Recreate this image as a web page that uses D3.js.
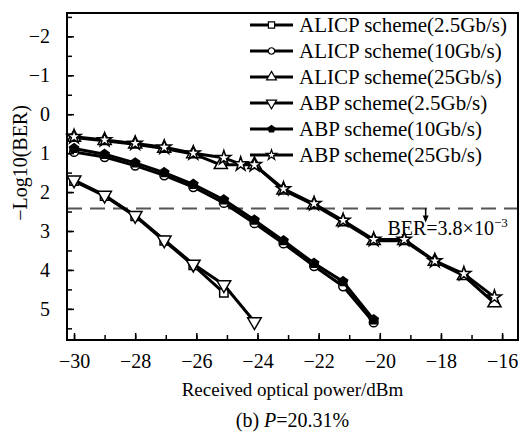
<!DOCTYPE html>
<html>
<head>
<meta charset="utf-8">
<script src="https://cdn.jsdelivr.net/npm/d3@7"></script>
<style>
  body { margin: 0; background: #fff; }
  svg { display: block; }
  svg text { font-family: "Liberation Serif", "Times New Roman", Times, serif; fill: #000; }
</style>
</head>
<body>
<svg id="chart" width="520" height="432"></svg>
<script>
// received optical power (dBm) / -log10(BER) per series
var alicp25x = [-30, -29, -28, -27.05, -26.1, -25.1];
var alicp25y = [1.72, 2.1, 2.62, 3.25, 3.88, 4.59];
var alicp10x = [-30, -29, -28, -27.05, -26.1, -25.1, -24.1, -23.15, -22.15, -21.2, -20.2];
var alicp10y = [0.97, 1.1, 1.32, 1.57, 1.87, 2.28, 2.8, 3.32, 3.9, 4.42, 5.35];
var alicp250x = [-30, -29, -28, -27.05, -26.1, -25.2, -24.1, -23.15, -22.15, -21.2, -20.2, -19.2, -18.2, -17.25, -16.25];
var alicp250y = [0.6, 0.68, 0.77, 0.88, 1.02, 1.3, 1.3, 1.95, 2.33, 2.77, 3.25, 3.25, 3.78, 4.15, 4.85];
var abp25x = [-30, -29, -28, -27.05, -26.1, -25.1, -24.1];
var abp25y = [1.69, 2.08, 2.6, 3.23, 3.85, 4.38, 5.33];
var abp10x = [-30, -29, -28, -27.05, -26.1, -25.1, -24.1, -23.15, -22.15, -21.2, -20.2];
var abp10y = [0.88, 1.03, 1.25, 1.5, 1.8, 2.2, 2.72, 3.25, 3.83, 4.3, 5.28];
var abp250x = [-30, -29, -28, -27.05, -26.1, -25.1, -24.55, -24.1, -23.15, -22.15, -21.2, -20.2, -19.2, -18.2, -17.25, -16.25];
var abp250y = [0.58, 0.66, 0.75, 0.85, 1.0, 1.12, 1.28, 1.3, 1.92, 2.3, 2.73, 3.22, 3.22, 3.77, 4.1, 4.7];

var seriesNames = ['ALICP scheme(2.5Gb/s)', 'ALICP scheme(10Gb/s)', 'ALICP scheme(25Gb/s)',
                   'ABP scheme(2.5Gb/s)', 'ABP scheme(10Gb/s)', 'ABP scheme(25Gb/s)'];
var xTicks = [-30, -28, -26, -24, -22, -20, -18, -16];
var yTicks = [-2, -1, 0, 1, 2, 3, 4, 5];
var berLimit = 2.42; // -log10(3.8e-3)

var serif = '"Liberation Serif", "Times New Roman", Times, serif';
var dim = { width: 520, height: 432 };
var margin = { top: 13, bottom: 92, left: 67, right: 2 };
var w = dim.width - margin.left - margin.right;
var h = dim.height - margin.top - margin.bottom;

var svg = d3.select('#chart');
svg.append('rect').attr('width', dim.width).attr('height', dim.height).style('fill', '#fff');

var g = svg.append('g').attr('transform', 'translate(' + margin.left + ',' + margin.top + ')');

var x = d3.scaleLinear().domain([-30.23, -15.48]).range([0, w]);
var y = d3.scaleLinear().domain([-2.6, 5.8]).range([0, h]);

// pentagon ("house") symbol
var pentagon = {
    draw: function(ctx, size) {
        var r = Math.sqrt(size / 2.38);
        for (var i = 0; i < 5; i++) {
            var a = -Math.PI / 2 + i * 2 * Math.PI / 5;
            if (i === 0) ctx.moveTo(r * Math.cos(a), r * Math.sin(a));
            else ctx.lineTo(r * Math.cos(a), r * Math.sin(a));
        }
        ctx.closePath();
    }
};
var downTri = {
    draw: function(ctx, size) {
        var s = Math.sqrt(size * 4 / Math.sqrt(3));
        var hh = s * Math.sqrt(3) / 2;
        ctx.moveTo(-s / 2, -hh / 3);
        ctx.lineTo(s / 2, -hh / 3);
        ctx.lineTo(0, hh * 2 / 3);
        ctx.closePath();
    }
};

var series = [
    { name: seriesNames[2], xs: alicp250x, ys: alicp250y, sym: d3.symbolTriangle, size: 75, fill: '#fff' },
    { name: seriesNames[5], xs: abp250x, ys: abp250y, sym: d3.symbolStar, size: 60, fill: '#fff' },
    { name: seriesNames[1], xs: alicp10x, ys: alicp10y, sym: d3.symbolCircle, size: 60, fill: '#fff' },
    { name: seriesNames[4], xs: abp10x, ys: abp10y, sym: pentagon, size: 55, fill: '#000' },
    { name: seriesNames[0], xs: alicp25x, ys: alicp25y, sym: d3.symbolSquare, size: 70, fill: '#fff' },
    { name: seriesNames[3], xs: abp25x, ys: abp25y, sym: downTri, size: 80, fill: '#fff' }
];

// threshold line
g.append('line')
    .attr('x1', 0).attr('x2', w)
    .attr('y1', y(berLimit)).attr('y2', y(berLimit))
    .style('stroke', '#555').style('stroke-width', 2)
    .style('stroke-dasharray', '15,8');

var line = d3.line()
    .x(function(d) { return x(d[0]); })
    .y(function(d) { return y(d[1]); });

series.forEach(function(s) {
    var pts = s.xs.map(function(v, i) { return [v, s.ys[i]]; });
    g.append('path').datum(pts)
        .attr('d', line)
        .style('fill', 'none').style('stroke', '#000').style('stroke-width', 3)
        .style('stroke-linejoin', 'round');
    g.selectAll(null).data(pts).enter().append('path')
        .attr('transform', function(d) { return 'translate(' + x(d[0]) + ',' + y(d[1]) + ')'; })
        .attr('d', d3.symbol().type(s.sym).size(s.size))
        .style('fill', s.fill).style('stroke', '#000').style('stroke-width', 1.5);
});

// BER annotation
var ax = x(-18.5);
g.append('line')
    .attr('x1', ax).attr('x2', ax)
    .attr('y1', y(berLimit)).attr('y2', y(berLimit) + 10)
    .style('stroke', '#000').style('stroke-width', 1.5);
g.append('path')
    .attr('d', 'M' + (ax - 3) + ',' + (y(berLimit) + 7) + 'L' + (ax + 3) + ',' + (y(berLimit) + 7) + 'L' + ax + ',' + (y(berLimit) + 14) + 'Z')
    .style('fill', '#000');
var berText = g.append('text')
    .attr('x', x(-19.75)).attr('y', y(3.1))
    .style('font-size', '20px').style('font-family', serif)
    .text('BER=3.8×10');
berText.append('tspan').attr('dy', -8).style('font-size', '13px').text('−3');

// axes (ticks inside)
var xAxis = d3.axisBottom(x).tickValues(xTicks).tickSizeInner(-7).tickSizeOuter(0).tickPadding(14);
var xMinor = d3.axisBottom(x).tickValues(d3.range(-30, -15.5, 1)).tickSizeInner(-5).tickSizeOuter(0).tickFormat('');
var yAxis = d3.axisLeft(y).tickValues(yTicks).tickSizeInner(-7).tickSizeOuter(0).tickPadding(17);
var yMinor = d3.axisLeft(y).tickValues(d3.range(-2.5, 5.75, 0.5)).tickSizeInner(-5).tickSizeOuter(0).tickFormat('');

g.append('g').attr('class', 'axis').attr('transform', 'translate(0,' + h + ')').call(xMinor);
g.append('g').attr('class', 'axis').attr('transform', 'translate(0,' + h + ')').call(xAxis);
g.append('g').attr('class', 'axis').call(yMinor);
g.append('g').attr('class', 'axis').call(yAxis);

g.selectAll('.axis').attr('font-family', null);
g.selectAll('.axis text')
    .style('font-size', '20px')
    .style('font-family', serif)
    .style('fill', '#000');
g.selectAll('.axis line').style('stroke', '#000').style('stroke-width', 1.5);
g.selectAll('.axis path.domain').remove();

// frame
g.append('rect')
    .attr('width', w).attr('height', h)
    .style('fill', 'none').style('stroke', '#000').style('stroke-width', 2);

// legend
var legendOrder = [4, 2, 0, 5, 3, 1];
var legend = g.append('g').attr('transform', 'translate(' + (250 - margin.left) + ',' + (25 - margin.top) + ')');
legendOrder.forEach(function(idx, i) {
    var s = series[idx];
    var row = legend.append('g').attr('transform', 'translate(0,' + (i * 26) + ')');
    row.append('line').attr('x1', 0).attr('x2', 43)
        .style('stroke', '#000').style('stroke-width', 3);
    row.append('path')
        .attr('transform', 'translate(21.5,0)')
        .attr('d', d3.symbol().type(s.sym).size(s.size * 0.55))
        .style('fill', s.fill).style('stroke', '#000').style('stroke-width', 1.2);
    row.append('text').attr('x', 49).attr('y', 0).attr('dy', '0.35em')
        .style('font-size', '21px').style('font-family', serif)
        .text(s.name);
});

// axis titles
svg.append('text')
    .attr('transform', 'translate(20,' + 163 + ') rotate(-90)')
    .attr('text-anchor', 'middle').attr('dy', '0.35em')
    .style('font-size', '20px').style('font-family', serif)
    .text('−Log10(BER)');
svg.append('text')
    .attr('x', margin.left + w / 2).attr('y', 396)
    .attr('text-anchor', 'middle')
    .style('font-size', '19px').style('font-family', serif)
    .text('Received optical power/dBm');
var cap = svg.append('text')
    .attr('x', margin.left + w / 2).attr('y', 427)
    .attr('text-anchor', 'middle')
    .style('font-size', '20px').style('font-family', serif);
cap.append('tspan').text('(b) ');
cap.append('tspan').style('font-style', 'italic').text('P');
cap.append('tspan').text('=20.31%');
</script>
</body>
</html>
